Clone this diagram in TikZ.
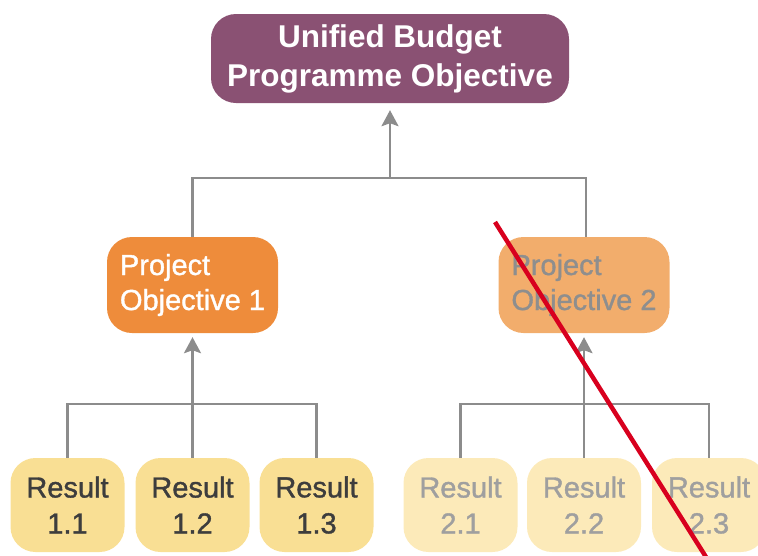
\documentclass[tikz,border=0pt]{standalone}
\usepackage{fontspec}
\setmainfont{Liberation Sans}
\newfontfamily\medfont[FakeBold=1.2]{Liberation Sans}
\usetikzlibrary{arrows.meta}
\definecolor{topfill}{HTML}{8A5173}
\definecolor{pofill}{HTML}{EE8C3B}
\definecolor{pofade}{HTML}{F2AD6C}
\definecolor{resfill}{HTML}{F9DF94}
\definecolor{resfade}{HTML}{FCEAB9}
\definecolor{restext}{HTML}{3D3D3D}
\definecolor{fadetext}{HTML}{8E8E8E}
\definecolor{conngray}{HTML}{8C8C8C}
\definecolor{strike}{HTML}{D8001E}
\tikzset{
  x=1pt, y=-1pt,
  box/.style={rounded corners=25pt, inner sep=0pt, align=center},
  topbox/.style={box, fill=topfill, text=white, minimum width=358pt, minimum height=89pt,
    font=\fontsize{31.5}{39}\selectfont\bfseries},
  pobox/.style={box, fill=pofill, text=white, minimum width=171pt, minimum height=96pt,
    align=left, font=\medfont\fontsize{29}{35}\selectfont},
  pofadebox/.style={pobox, fill=pofade, text=fadetext},
  resbox/.style={box, fill=resfill, text=restext, minimum width=114pt, minimum height=94pt,
    font=\medfont\fontsize{29}{36}\selectfont},
  resfadebox/.style={resbox, fill=resfade, text=fadetext!85!white},
  conn/.style={draw=conngray, line width=2.5pt},
  uparrow/.style={conn, -{Stealth[length=16pt,width=17pt,inset=3pt]}},
}
\begin{document}
\begin{tikzpicture}
\useasboundingbox (0,0) rectangle (758,555);
\clip (0,0) rectangle (758,555);
\node[topbox] (top) at (390,58.5) {Unified Budget\\Programme Objective};
\node[pobox] (po1) at (192.5,285) {Project\\Objective 1};
\node[pofadebox] (po2) at (584,285) {Project\\Objective 2};
\node[resbox] (r11) at (67.5,505) {Result\\1.1};
\node[resbox] (r12) at (192.5,505) {Result\\1.2};
\node[resbox] (r13) at (316.5,505) {Result\\1.3};
\node[resfadebox] (r21) at (460.5,505) {Result\\2.1};
\node[resfadebox] (r22) at (584,505) {Result\\2.2};
\node[resfadebox] (r23) at (709,505) {Result\\2.3};
\coordinate (bus0) at (390,178);
\coordinate (bus1) at (192.5,404);
\coordinate (bus2) at (584,404);
% top level
\draw[conn] (po1.north) |- (bus0) -| ([xshift=2pt]po2.north);
\draw[uparrow, shorten >=5pt] (bus0) -- ([yshift=-2pt]top.south);
% group 1
\draw[conn] (r11.north) |- (bus1) -| (r13.north);
\draw[conn] (r12.north) -- (bus1);
\draw[uparrow, shorten >=4pt] (bus1) -- (po1.south);
% group 2
\draw[conn] (r21.north) |- (bus2) -| (r23.north);
\draw[conn] (r22.north) -- (bus2);
\draw[uparrow, shorten >=4pt] (bus2) -- (po2.south);
% strike-through
\coordinate (s1) at (495,222);
\coordinate (s2) at (706,557);
\draw[strike, line width=4.5pt] (s1) -- (s2);
\end{tikzpicture}
\end{document}
